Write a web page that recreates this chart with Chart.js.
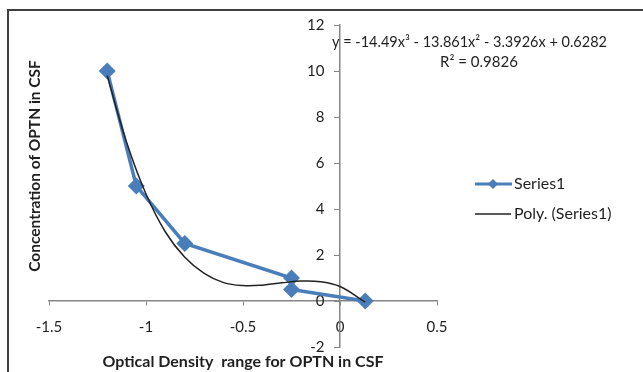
<!DOCTYPE html>
<html>
<head>
<meta charset="utf-8">
<script src="https://cdn.jsdelivr.net/npm/chart.js@4"></script>
<style>
  html, body { margin: 0; padding: 0; background: #fff; }
  #wrap { width: 643px; height: 372px; }
</style>
</head>
<body>
<div id="wrap"><canvas id="chart" width="643" height="372"></canvas></div>
<script>
// measured points (optical density vs concentration)
const odValues = [-1.2, -1.05, -0.8, -0.25, -0.25, 0.13]
const concValues = [10, 5, 2.5, 1, 0.5, 0]

// cubic trendline
const trendX = [-1.2, -1.1, -1.0, -0.9, -0.8, -0.7, -0.6, -0.5, -0.4, -0.3, -0.2, -0.1, 0, 0.13]
const trendY = [9.8, 6.9, 4.65, 3.0, 1.9, 1.2, 0.8, 0.67, 0.69, 0.79, 0.87, 0.84, 0.63, -0.05]

const xTicks = [-1.5, -1, -0.5, 0, 0.5]
const yTicks = [-2, 0, 2, 4, 6, 8, 10, 12]

const equationText = 'y = -14.49x³ - 13.861x² - 3.3926x + 0.6282'
const r2Text = 'R² = 0.9826'
const xTitle = 'Optical Density  range for OPTN in CSF'
const yTitle = 'Concentration of OPTN in CSF'
const seriesNames = ['Series1', 'Poly. (Series1)']

const blue = '#4a7ebb'
const textColor = '#1f1f1f'
const axisColor = '#868686'
const fontFamily = 'Lato, "Open Sans", sans-serif'

const toPoints = (xs, ys) => xs.map((x, i) => ({ x, y: ys[i] }))
const setTicks = (list) => (axis) => { axis.ticks = list.map(v => ({ value: v })) }

// frame, equation, axis titles and legend
const extras = {
  id: 'extras',
  afterDraw (chart) {
    const { ctx } = chart
    ctx.save()
    ctx.strokeStyle = '#404040'
    ctx.lineWidth = 2
    ctx.strokeRect(8, 10, 700, 400)

    ctx.fillStyle = textColor
    ctx.textBaseline = 'middle'
    ctx.font = '14.5px ' + fontFamily
    ctx.textAlign = 'left'
    ctx.fillText(equationText, 332, 42)
    ctx.textAlign = 'center'
    ctx.font = '15px ' + fontFamily
    ctx.fillText(r2Text, 479, 62)

    ctx.font = 'bold 16px ' + fontFamily
    ctx.fillText(xTitle, 243, 362)
    ctx.save()
    ctx.translate(35, 166)
    ctx.rotate(-Math.PI / 2)
    ctx.font = 'bold 15.5px ' + fontFamily
    ctx.fillText(yTitle, 0, 0)
    ctx.restore()

    // legend
    ctx.font = '16px ' + fontFamily
    ctx.textAlign = 'left'
    ctx.strokeStyle = blue
    ctx.lineWidth = 3
    ctx.beginPath(); ctx.moveTo(475, 184); ctx.lineTo(512, 184); ctx.stroke()
    ctx.fillStyle = blue
    ctx.beginPath()
    ctx.moveTo(493, 179); ctx.lineTo(498, 184); ctx.lineTo(493, 189); ctx.lineTo(488, 184)
    ctx.closePath(); ctx.fill()
    ctx.strokeStyle = '#222'
    ctx.lineWidth = 1.5
    ctx.beginPath(); ctx.moveTo(475, 214); ctx.lineTo(511, 214); ctx.stroke()
    ctx.fillStyle = textColor
    ctx.fillText(seriesNames[0], 514, 184)
    ctx.fillText(seriesNames[1], 514, 214)
    ctx.restore()
  },
}

const tickFont = { family: fontFamily, size: 15 }

new Chart(document.getElementById('chart').getContext('2d'), {
  type: 'scatter',
  data: {
    datasets: [
      {
        label: seriesNames[1],
        data: toPoints(trendX, trendY),
        showLine: true,
        borderColor: '#222',
        borderWidth: 1.5,
        pointRadius: 0,
        tension: 0.4,
        order: 0,
      },
      {
        label: seriesNames[0],
        data: toPoints(odValues, concValues),
        showLine: true,
        borderColor: blue,
        backgroundColor: blue,
        borderWidth: 3.5,
        pointStyle: 'rectRot',
        pointRadius: 6,
        order: 1,
      },
    ],
  },
  options: {
    responsive: false,
    animation: false,
    layout: { padding: { left: 49, right: 206, top: 25, bottom: 25 } },
    plugins: { legend: { display: false }, tooltip: { enabled: false } },
    scales: {
      x: {
        type: 'linear',
        position: { y: 0 },
        min: -1.5,
        max: 0.5,
        afterBuildTicks: setTicks(xTicks),
        grid: { drawOnChartArea: false, drawTicks: true, tickLength: 4, color: axisColor },
        border: { color: axisColor, width: 1.5 },
        ticks: { color: textColor, padding: 13, font: tickFont, callback: (v) => String(v) },
      },
      // the axis line and its tick marks
      y: {
        type: 'linear',
        position: { x: 0 },
        min: -2,
        max: 12,
        afterBuildTicks: setTicks(yTicks),
        grid: { drawOnChartArea: false, drawTicks: true, tickLength: 5, color: axisColor },
        border: { color: axisColor, width: 1.5 },
        ticks: { display: false },
      },
      // tick labels, set a little to the left of the axis line
      yLabels: {
        type: 'linear',
        axis: 'y',
        position: { x: -0.08 },
        min: -2,
        max: 12,
        afterBuildTicks: setTicks(yTicks),
        grid: { display: false },
        border: { display: false },
        ticks: { color: textColor, font: tickFont, callback: (v) => String(v) },
      },
    },
  },
  plugins: [extras],
})
</script>
</body>
</html>
